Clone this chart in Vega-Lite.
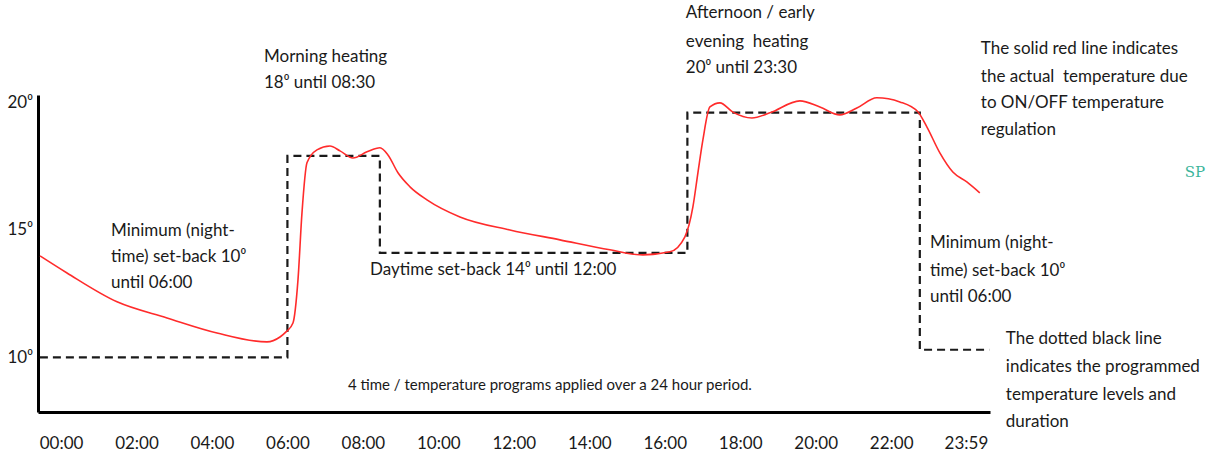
{
  "$schema": "https://vega.github.io/schema/vega-lite/v6.json",
  "width": 952,
  "height": 317,
  "autosize": {"type": "none"},
  "padding": {"left": 38, "top": 95, "right": 217, "bottom": 47},
  "background": "white",
  "config": {"view": {"stroke": null}, "font": "Lato"},
  "datasets": {
    "program": [
      {"hour": -0.56, "temp": 10.0},
      {"hour": 6.0, "temp": 10.0},
      {"hour": 6.0, "temp": 17.9},
      {"hour": 8.45, "temp": 17.9},
      {"hour": 8.45, "temp": 14.1},
      {"hour": 16.6, "temp": 14.1},
      {"hour": 16.6, "temp": 19.6},
      {"hour": 22.76, "temp": 19.6},
      {"hour": 22.76, "temp": 10.3},
      {"hour": 24.6, "temp": 10.3}
    ],
    "actual": [
      {"hour": -0.556, "temp": 13.98},
      {"hour": 0.159, "temp": 13.31},
      {"hour": 1.484, "temp": 12.18},
      {"hour": 2.809, "temp": 11.55},
      {"hour": 4.134, "temp": 10.96},
      {"hour": 5.458, "temp": 10.61},
      {"hour": 5.803, "temp": 10.8},
      {"hour": 5.962, "temp": 11.0},
      {"hour": 6.147, "temp": 11.35},
      {"hour": 6.28, "temp": 13.04},
      {"hour": 6.386, "temp": 15.67},
      {"hour": 6.518, "temp": 17.63},
      {"hour": 6.783, "temp": 18.14},
      {"hour": 7.128, "temp": 18.29},
      {"hour": 7.393, "temp": 18.1},
      {"hour": 7.737, "temp": 17.82},
      {"hour": 8.108, "temp": 18.06},
      {"hour": 8.453, "temp": 18.22},
      {"hour": 8.665, "temp": 17.94},
      {"hour": 8.93, "temp": 17.24},
      {"hour": 9.248, "temp": 16.69},
      {"hour": 9.698, "temp": 16.18},
      {"hour": 10.572, "temp": 15.51},
      {"hour": 11.897, "temp": 15.0},
      {"hour": 13.222, "temp": 14.61},
      {"hour": 14.547, "temp": 14.22},
      {"hour": 15.421, "temp": 14.02},
      {"hour": 16.137, "temp": 14.14},
      {"hour": 16.534, "temp": 14.73},
      {"hour": 16.746, "temp": 15.9},
      {"hour": 16.879, "temp": 17.24},
      {"hour": 17.011, "temp": 18.53},
      {"hour": 17.197, "temp": 19.82},
      {"hour": 17.462, "temp": 19.98},
      {"hour": 17.806, "temp": 19.62},
      {"hour": 18.31, "temp": 19.39},
      {"hour": 18.786, "temp": 19.59},
      {"hour": 19.581, "temp": 20.06},
      {"hour": 20.111, "temp": 19.82},
      {"hour": 20.641, "temp": 19.51},
      {"hour": 21.091, "temp": 19.78},
      {"hour": 21.621, "temp": 20.18},
      {"hour": 22.231, "temp": 20.02},
      {"hour": 22.708, "temp": 19.63},
      {"hour": 22.946, "temp": 19.04},
      {"hour": 23.291, "temp": 18.02},
      {"hour": 23.635, "temp": 17.27},
      {"hour": 24.006, "temp": 16.88},
      {"hour": 24.35, "temp": 16.45}
    ],
    "notes": [
      {"hour": 5.379, "temp": 21.78, "text": "Morning heating"},
      {"hour": 5.379, "temp": 20.76, "text": "18⁰ until 08:30"},
      {"hour": 16.56, "temp": 23.51, "text": "Afternoon / early"},
      {"hour": 16.56, "temp": 22.37, "text": "evening \u00a0heating"},
      {"hour": 16.56, "temp": 21.35, "text": "20⁰ until 23:30"},
      {"hour": 24.377, "temp": 22.1, "text": "The solid red line indicates"},
      {"hour": 24.377, "temp": 21.0, "text": "the actual \u00a0temperature due"},
      {"hour": 24.377, "temp": 19.98, "text": "to ON/OFF temperature"},
      {"hour": 24.377, "temp": 18.92, "text": "regulation"},
      {"hour": 1.325, "temp": 14.96, "text": "Minimum (night-"},
      {"hour": 1.325, "temp": 13.94, "text": "time) set-back 10⁰"},
      {"hour": 1.325, "temp": 12.92, "text": "until 06:00"},
      {"hour": 8.188, "temp": 13.43, "text": "Daytime set-back 14⁰ until 12:00"},
      {"hour": 23.03, "temp": 14.49, "text": "Minimum (night-"},
      {"hour": 23.03, "temp": 13.39, "text": "time) set-back 10⁰"},
      {"hour": 23.03, "temp": 12.37, "text": "until 06:00"},
      {"hour": 25.04, "temp": 10.73, "text": "The dotted black line"},
      {"hour": 25.04, "temp": 9.63, "text": "indicates the programmed"},
      {"hour": 25.04, "temp": 8.53, "text": "temperature levels and"},
      {"hour": 25.04, "temp": 7.47, "text": "duration"}
    ],
    "footnote": [
      {"hour": 12.957, "temp": 8.92, "text": "4 time / temperature programs applied over a 24 hour period."}
    ],
    "logo": [
      {"hour": 29.78, "temp": 17.27, "text": "SP"}
    ]
  },
  "layer": [
    {
      "data": {"name": "program"},
      "mark": {"type": "line", "color": "#1a1a1a", "strokeWidth": 2.2, "strokeDash": [8, 5], "clip": false},
      "encoding": {
        "x": {
          "field": "hour",
          "type": "quantitative",
          "scale": {"domain": [-0.61, 24.62], "nice": false, "zero": false},
          "axis": {
            "title": null,
            "values": [0, 2, 4, 6, 8, 10, 12, 14, 16, 18, 20, 22, 23.983],
            "labelExpr": "datum.value > 23 ? '23:59' : (datum.value < 10 ? '0' : '') + datum.value + ':00'",
            "ticks": false,
            "grid": false,
            "domainColor": "#000000",
            "domainWidth": 3,
            "labelFont": "Lato",
            "labelFontSize": 17,
            "labelColor": "#1a1a1a",
            "labelBaseline": "middle",
            "labelPadding": 31,
            "labelFlush": false,
            "labelOverlap": false
          }
        },
        "y": {
          "field": "temp",
          "type": "quantitative",
          "scale": {"domain": [7.86, 20.29], "nice": false, "zero": false},
          "axis": {
            "title": null,
            "values": [10, 15, 20],
            "labelExpr": "datum.value + '⁰'",
            "ticks": false,
            "grid": false,
            "domainColor": "#000000",
            "domainWidth": 3,
            "labelFont": "Lato",
            "labelFontSize": 17,
            "labelColor": "#1a1a1a",
            "labelAlign": "left",
            "labelBaseline": "middle",
            "labelPadding": 31
          }
        }
      }
    },
    {
      "data": {"name": "actual"},
      "mark": {"type": "line", "color": "#ff2b2b", "strokeWidth": 1.6, "interpolate": "monotone", "clip": false},
      "encoding": {
        "x": {"field": "hour", "type": "quantitative"},
        "y": {"field": "temp", "type": "quantitative"}
      }
    },
    {
      "data": {"name": "notes"},
      "mark": {"type": "text", "align": "left", "baseline": "middle", "font": "Lato", "fontSize": 17, "color": "#1a1a1a"},
      "encoding": {
        "x": {"field": "hour", "type": "quantitative"},
        "y": {"field": "temp", "type": "quantitative"},
        "text": {"field": "text"}
      }
    },
    {
      "data": {"name": "footnote"},
      "mark": {"type": "text", "align": "center", "baseline": "middle", "font": "Lato", "fontSize": 15, "color": "#1a1a1a"},
      "encoding": {
        "x": {"field": "hour", "type": "quantitative"},
        "y": {"field": "temp", "type": "quantitative"},
        "text": {"field": "text"}
      }
    },
    {
      "data": {"name": "logo"},
      "mark": {"type": "text", "align": "left", "baseline": "middle", "font": "DejaVu Serif", "fontSize": 15, "color": "#3bb59b"},
      "encoding": {
        "x": {"field": "hour", "type": "quantitative"},
        "y": {"field": "temp", "type": "quantitative"},
        "text": {"field": "text"}
      }
    }
  ]
}
